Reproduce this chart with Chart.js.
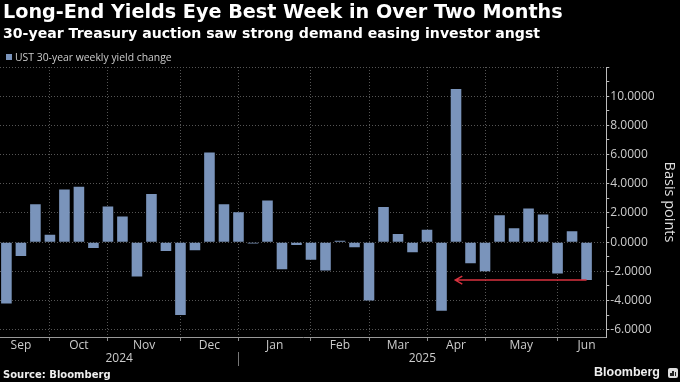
<!DOCTYPE html>
<html><head><meta charset="utf-8">
<script src="https://cdn.jsdelivr.net/npm/chart.js@4.4.1/dist/chart.umd.min.js"></script>
<style>
html,body{margin:0;padding:0;background:#000;}
#wrap{position:relative;width:680px;height:382px;background:#000;overflow:hidden;}
canvas{position:absolute;left:0;top:0;}
.t{position:absolute;white-space:nowrap;line-height:1;}
#title{left:3px;top:2px;font-family:"DejaVu Sans";font-weight:bold;font-size:19.2px;color:#fff;}
#sub{left:3px;top:25.5px;font-family:"DejaVu Sans";font-weight:bold;font-size:14.1px;color:#fff;}
#leg{left:15px;top:52px;font-family:"Open Sans";font-size:10.4px;color:#ccc;}
#legbox{position:absolute;left:6px;top:54px;width:6px;height:6px;background:#7a94bb;}
#src{left:3px;top:370px;font-family:"DejaVu Sans";font-weight:bold;font-size:10px;color:#eee;}
#bb{left:594px;top:366px;font-family:"Liberation Sans";font-weight:bold;font-size:12.5px;color:#eee;}
#logo{position:absolute;left:668px;top:368px;width:10px;height:10px;background:#ddd;border-radius:2px;}
#logo i{position:absolute;bottom:2px;width:1.5px;background:#222;}
</style></head><body>
<div id="wrap">
<canvas id="c" width="680" height="382"></canvas>
<div class="t" id="title">Long-End Yields Eye Best Week in Over Two Months</div>
<div class="t" id="sub">30-year Treasury auction saw strong demand easing investor angst</div>
<div id="legbox"></div>
<div class="t" id="leg">UST 30-year weekly yield change</div>
<div class="t" id="src">Source: Bloomberg</div>
<div class="t" id="bb">Bloomberg</div>
<div id="logo"><i style="left:2px;height:3px"></i><i style="left:4.3px;height:5px"></i><i style="left:6.6px;height:4px"></i></div>
</div>
<script>
// ---- data ----
const weeks = [
 '2024-09-06','2024-09-13','2024-09-20','2024-09-27',
 '2024-10-04','2024-10-11','2024-10-18','2024-10-25',
 '2024-11-01','2024-11-08','2024-11-15','2024-11-22','2024-11-29',
 '2024-12-06','2024-12-13','2024-12-20','2024-12-27',
 '2025-01-03','2025-01-10','2025-01-17','2025-01-24','2025-01-31',
 '2025-02-07','2025-02-14','2025-02-21','2025-02-28',
 '2025-03-07','2025-03-14','2025-03-21','2025-03-28',
 '2025-04-04','2025-04-11','2025-04-18','2025-04-25',
 '2025-05-02','2025-05-09','2025-05-16','2025-05-23','2025-05-30',
 '2025-06-06','2025-06-13'
];
const values = [
 -4.2, -0.95, 2.6, 0.5,
 3.6, 3.8, -0.4, 2.45,
 1.75, -2.35, 3.3, -0.6, -5.0,
 -0.55, 6.15, 2.6, 2.05,
 -0.1, 2.85, -1.85, -0.2, -1.2,
 -1.95, 0.1, -0.35, -4.0,
 2.4, 0.55, -0.7, 0.85,
 -4.7, 10.5, -1.45, -2.0,
 1.85, 0.95, 2.3, 1.9, -2.15,
 0.75, -2.6
];
const monthNames = ['Sep','Oct','Nov','Dec','Jan','Feb','Mar','Apr','May','Jun'];
const yearNames = ['2024','2025'];
const yMajor = [-6,-4,-2,0,2,4,6,8,10];
const yMinor = [-5,-3,-1,1,3,5,7,9,11];
const yTop = 12;
const arrowFromWeek = 40, arrowToWeek = 30.95, arrowLevel = -2.6;

// ---- derived axis structure ----
const xMin = -0.442, xMax = 41.36;
const boundaries = [];
for (let i = 0; i < weeks.length - 1; i++) {
  if (weeks[i].slice(0,7) !== weeks[i+1].slice(0,7)) boundaries.push(i);
}
const edges = [-1, ...boundaries, weeks.length + 1];
const monthPos = monthNames.map((m,k) => (edges[k] + edges[k+1]) / 2);
let yearDivider = 0;
for (let i = 0; i < weeks.length - 1; i++) {
  if (weeks[i].slice(0,4) !== weeks[i+1].slice(0,4)) yearDivider = i;
}
const yearPos = [(xMin + yearDivider) / 2, (yearDivider + xMax) / 2];

const BAR = '#7a94bb';
const GRID = '#555';
const TXT = '#cccccc';

const arrowPlugin = {
  id: 'arrow',
  afterDatasetsDraw(chart) {
    const xs = chart.scales.x, ys = chart.scales.y, ctx = chart.ctx;
    const x1 = xs.getPixelForValue(arrowFromWeek);
    const x2 = xs.getPixelForValue(arrowToWeek);
    const yy = ys.getPixelForValue(arrowLevel);
    ctx.save();
    ctx.strokeStyle = '#d9323f';
    ctx.lineWidth = 1.5;
    ctx.beginPath();
    ctx.moveTo(x1, yy); ctx.lineTo(x2, yy);
    ctx.moveTo(x2 + 7, yy - 4); ctx.lineTo(x2, yy); ctx.lineTo(x2 + 7, yy + 4);
    ctx.stroke();
    ctx.restore();
  }
};

new Chart(document.getElementById('c'), {
  type: 'bar',
  data: {
    labels: weeks,
    datasets: [{
      label: 'UST 30-year weekly yield change',
      data: values.map((v, i) => ({ x: i, y: v })),
      backgroundColor: BAR,
      borderWidth: 0,
      barPercentage: 0.73,
      categoryPercentage: 1
    }]
  },
  options: {
    responsive: false,
    animation: false,
    devicePixelRatio: 1,
    layout: { padding: { top: 67, left: 0, right: 0, bottom: 16 } },
    plugins: { legend: { display: false }, tooltip: { enabled: false } },
    scales: {
      x: {
        type: 'linear', position: 'bottom', min: xMin, max: xMax, offset: false,
        afterBuildTicks: s => {
          s.ticks = [...boundaries, ...monthPos].sort((a,b)=>a-b).map(v => ({ value: v }));
        },
        afterFit: s => { s.height = 15; },
        ticks: {
          autoSkip: false, maxRotation: 0, minRotation: 0, padding: -2.7, color: TXT,
          font: { family: 'Open Sans', size: 12 },
          callback: v => { const k = monthPos.indexOf(v); return k >= 0 ? monthNames[k] : ''; }
        },
        grid: {
          offset: false, tickLength: 4, lineWidth: 1,
          color: c => (c.tick && boundaries.includes(c.tick.value)) ? GRID : 'rgba(0,0,0,0)',
          tickColor: c => (c.tick && boundaries.includes(c.tick.value)) ? '#888' : 'rgba(0,0,0,0)'
        },
        border: { display: true, color: '#999', dash: [1, 2] }
      },
      x2: {
        type: 'linear', position: 'bottom', min: xMin, max: xMax, offset: false,
        afterBuildTicks: s => {
          s.ticks = [yearPos[0], yearDivider, yearPos[1]].map(v => ({ value: v }));
        },
        afterFit: s => { s.height = 14; },
        ticks: {
          autoSkip: false, maxRotation: 0, minRotation: 0, padding: -14.2, color: TXT,
          font: { family: 'Open Sans', size: 12 },
          callback: v => { const k = yearPos.indexOf(v); return k >= 0 ? yearNames[k] : ''; }
        },
        grid: {
          drawOnChartArea: false, offset: false, tickLength: 14,
          color: 'rgba(0,0,0,0)',
          tickColor: c => (c.tick && c.tick.value === yearDivider) ? '#777' : 'rgba(0,0,0,0)'
        },
        border: { display: false }
      },
      y: {
        position: 'right', min: -6.5, max: 12,
        afterBuildTicks: s => {
          s.ticks = [...yMajor, ...yMinor, yTop].sort((a,b)=>a-b).map(v => ({ value: v }));
        },
        ticks: {
          autoSkip: false, padding: 1, color: TXT,
          font: { family: 'Open Sans', size: 12 },
          callback: v => yMajor.includes(v) ? v.toFixed(4) : ''
        },
        grid: {
          tickLength: 3,
          color: c => (c.tick && (yMajor.includes(c.tick.value) || c.tick.value === yTop)) ? GRID : 'rgba(0,0,0,0)',
          tickColor: '#bbb'
        },
        border: { display: true, color: '#bbb', dash: [1, 2] },
        title: {
          display: true, text: 'Basis points', color: '#ddd',
          font: { family: 'Open Sans', size: 14.5 },
          padding: { top: 2, bottom: 5 }
        }
      }
    }
  },
  plugins: [arrowPlugin]
});
</script>
</body></html>
